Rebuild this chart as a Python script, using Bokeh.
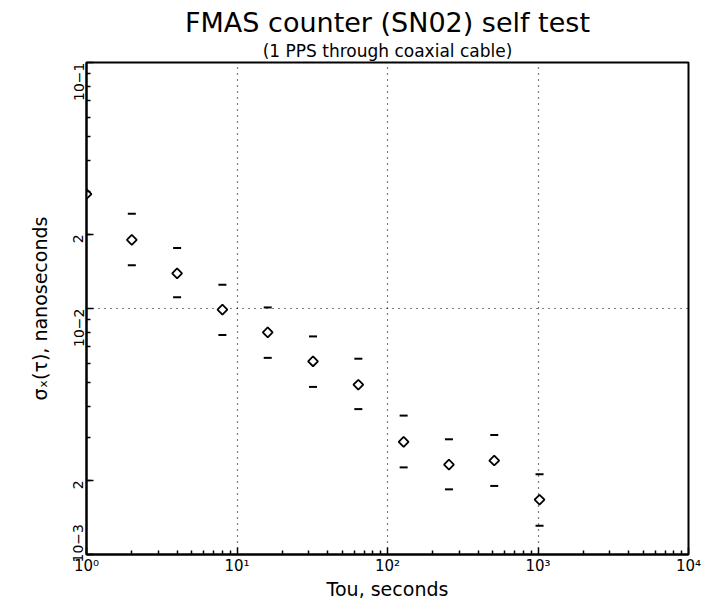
import math
from bokeh.plotting import figure
from bokeh.models import FixedTicker, Title, Range1d
from bokeh.embed import file_html
from bokeh.resources import INLINE

# ---- data ----
tau = [1, 2, 4, 8, 16, 32, 64, 128, 256, 512, 1024]
sigma = [0.0292, 0.0190, 0.0139, 0.0099, 0.0080, 0.0061, 0.0049, 0.00287, 0.00232, 0.00241, 0.00167]
tau_err = [2, 4, 8, 16, 32, 64, 128, 256, 512, 1024]
sigma_upper = [0.0243, 0.0176, 0.0125, 0.0101, 0.0077, 0.00625, 0.00367, 0.00294, 0.00306, 0.00212]
sigma_lower = [0.0150, 0.0111, 0.0078, 0.0063, 0.0048, 0.0039, 0.00226, 0.00184, 0.0019, 0.00131]

x_ticks = [1, 10, 100, 1000, 10000]
x_tick_labels = ["10\u2070", "10\u00b9", "10\u00b2", "10\u00b3", "10\u2074"]
y_ticks = [0.001, 0.002, 0.01, 0.02, 0.1]
y_tick_labels = ["10\u22123", "2", "10\u22122", "2", "10\u22121"]
x_grid = [10, 100, 1000]
y_grid = [0.01]

title_text = "FMAS counter (SN02) self test"
subtitle_text = "(1 PPS through coaxial cable)"
x_label = "Tou, seconds"
y_label = "\u03c3\u2093(\u03c4), nanoseconds"

FONT = "DejaVu Sans"

p = figure(width=703, height=602, x_axis_type="log", y_axis_type="log",
           x_range=Range1d(1, 1e4), y_range=Range1d(1e-3, 1e-1),
           output_backend="svg", toolbar_location=None,
           min_border_left=86, min_border_right=15, min_border_top=62, min_border_bottom=48)
p.background_fill_color = "white"
p.border_fill_color = "white"
p.outline_line_color = "black"
p.outline_line_width = 2

# titles: main on top, subtitle below it
p.title.text = title_text
p.title.align = "center"
p.title.text_font = FONT
p.title.text_font_size = "27px"
p.title.text_font_style = "normal"
p.title.text_color = "black"
p.title.standoff = 0
sub = Title(text=subtitle_text, align="center", text_font=FONT, text_font_size="17px",
            text_font_style="normal", text_color="black", standoff=3)
p.add_layout(sub, "above")

# minor ticks
minor_x = [m * 10 ** d for d in range(0, 4) for m in range(2, 10)]
minor_y = [m * 10.0 ** d for d in range(-3, -1) for m in range(2, 10)]

p.xaxis.ticker = FixedTicker(ticks=x_ticks, minor_ticks=minor_x)
p.yaxis.ticker = FixedTicker(ticks=y_ticks, minor_ticks=minor_y)
p.xaxis.major_label_overrides = {t: l for t, l in zip(x_ticks, x_tick_labels)}
# bottom label (10^-3) is padded with no-break spaces so it sits above the corner
y_over = {t: l for t, l in zip(y_ticks, y_tick_labels)}
y_over[y_ticks[0]] = "\u00a0" * 9 + y_tick_labels[0]
p.yaxis.major_label_overrides = y_over
p.yaxis.major_label_orientation = math.pi / 2

for ax in (p.xaxis[0], p.yaxis[0]):
    ax.axis_line_width = 2
    ax.axis_line_color = "black"
    ax.major_tick_in = 7
    ax.major_tick_out = 0
    ax.minor_tick_in = 4
    ax.minor_tick_out = 0
    ax.major_tick_line_width = 1.5
    ax.minor_tick_line_width = 1.5
    ax.major_label_text_font = FONT
    ax.major_label_text_color = "black"
    ax.axis_label_text_font = FONT
    ax.axis_label_text_font_size = "19px"
    ax.axis_label_text_font_style = "normal"
    ax.axis_label_text_color = "black"

p.xaxis.major_label_text_font_size = "15px"
p.yaxis.major_label_text_font_size = "14px"
p.xaxis.axis_label = x_label
p.yaxis.axis_label = y_label
p.xaxis.major_label_standoff = 2
p.xaxis.axis_label_standoff = 0
p.yaxis.major_label_standoff = 8
p.yaxis.axis_label_standoff = 9

# dotted grid
p.xgrid.ticker = FixedTicker(ticks=x_grid)
p.ygrid.ticker = FixedTicker(ticks=y_grid)
for g in (p.xgrid[0], p.ygrid[0]):
    g.grid_line_color = "black"
    g.grid_line_dash = "1 5"
    g.grid_line_width = 1.2

# error bar ends
p.scatter(tau_err, sigma_upper, marker="dash", size=8, line_width=2, line_color="black")
p.scatter(tau_err, sigma_lower, marker="dash", size=8, line_width=2, line_color="black")
# diamonds
p.scatter(tau, sigma, marker="square", angle=math.pi / 4, size=7,
          fill_color="white", line_color="black", line_width=1.8)

open("out.html", "w").write(file_html(p, INLINE))
